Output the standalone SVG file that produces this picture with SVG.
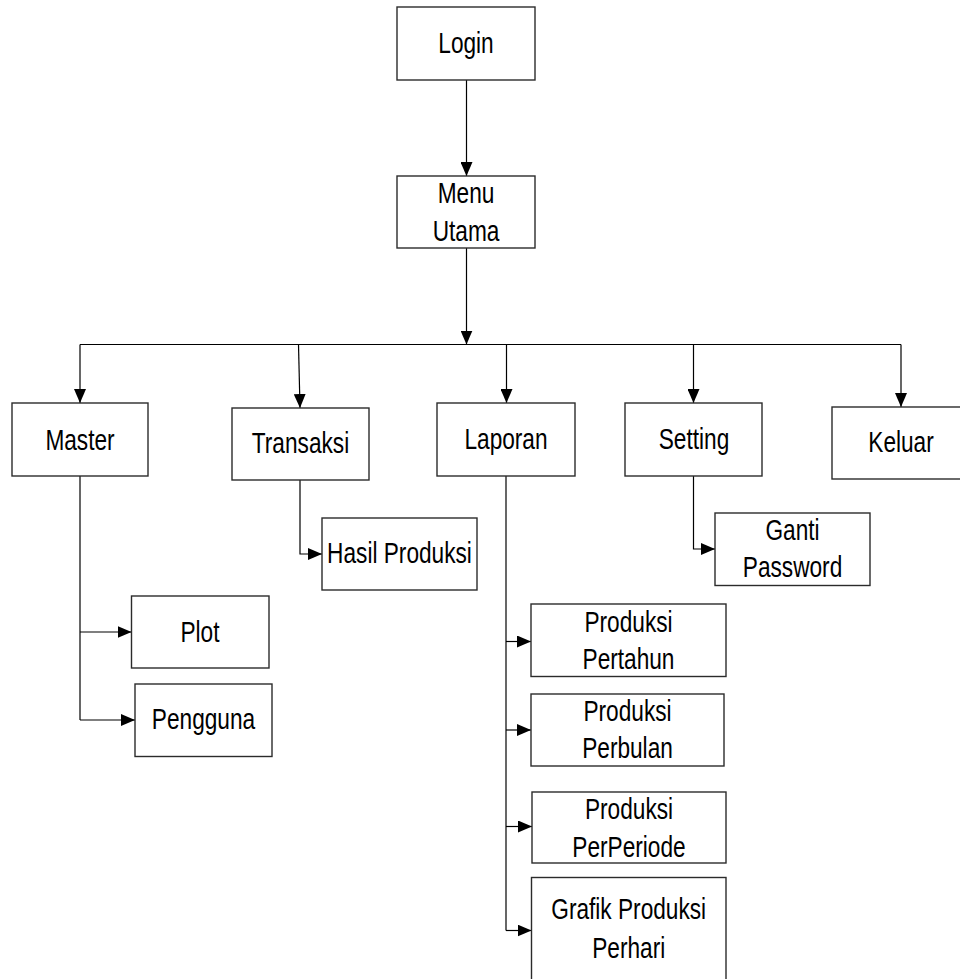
<svg xmlns="http://www.w3.org/2000/svg" width="960" height="979" viewBox="0 0 960 979">
<defs>
<style>
.box{fill:#fff;stroke:#2b2b2b;stroke-width:1.4}
.lbl{font-family:"Liberation Sans",Arial,sans-serif;font-size:30px;fill:#000;text-anchor:middle}
.con{fill:none;stroke:#000;stroke-width:1.2}
</style>
<marker id="ah" markerWidth="14" markerHeight="12" refX="14" refY="6" orient="auto" markerUnits="userSpaceOnUse">
<path d="M0,0 L14,6 L0,12 z" fill="#000"/>
</marker>
</defs>
<rect width="960" height="979" fill="#fff"/>
<g id="connectors">
<path class="con" d="M466.5,80 V176" marker-end="url(#ah)"/>
<path class="con" d="M466.5,248 V344.5" marker-end="url(#ah)"/>
<path class="con" d="M80,344.5 H901"/>
<path class="con" d="M80,344.5 V403" marker-end="url(#ah)"/>
<path class="con" d="M298.5,344.5 L300,408" marker-end="url(#ah)"/>
<path class="con" d="M506.5,344.5 V403" marker-end="url(#ah)"/>
<path class="con" d="M693.5,344.5 V403" marker-end="url(#ah)"/>
<path class="con" d="M901,344.5 V407" marker-end="url(#ah)"/>
<path class="con" d="M80,476 V720"/>
<path class="con" d="M80,632 H131.5" marker-end="url(#ah)"/>
<path class="con" d="M80,720 H135" marker-end="url(#ah)"/>
<path class="con" d="M300,480 V554 H322" marker-end="url(#ah)"/>
<path class="con" d="M506,476 V930.5"/>
<path class="con" d="M506,641.5 H531" marker-end="url(#ah)"/>
<path class="con" d="M506,730 H531" marker-end="url(#ah)"/>
<path class="con" d="M506,826.5 H532" marker-end="url(#ah)"/>
<path class="con" d="M506,930.5 H531.5" marker-end="url(#ah)"/>
<path class="con" d="M693.5,476 V549 H715" marker-end="url(#ah)"/>
</g>
<g id="login"><rect class="box" x="397" y="7" width="138" height="73"/><text class="lbl" transform="translate(466,53) scale(0.755,1)">Login</text></g>
<g id="menu-utama"><rect class="box" x="397" y="176" width="138" height="72"/><text class="lbl" transform="translate(466,203) scale(0.755,1)">Menu</text><text class="lbl" transform="translate(466,241) scale(0.755,1)">Utama</text></g>
<g id="master"><rect class="box" x="12" y="403" width="136" height="73"/><text class="lbl" transform="translate(80,450) scale(0.755,1)">Master</text></g>
<g id="transaksi"><rect class="box" x="232" y="408" width="137" height="72"/><text class="lbl" transform="translate(300.5,453) scale(0.755,1)">Transaksi</text></g>
<g id="laporan"><rect class="box" x="437" y="403" width="138" height="73"/><text class="lbl" transform="translate(506,449) scale(0.755,1)">Laporan</text></g>
<g id="setting"><rect class="box" x="625" y="403" width="137" height="73"/><text class="lbl" transform="translate(694,449) scale(0.755,1)">Setting</text></g>
<g id="keluar"><rect class="box" x="832" y="407" width="138" height="72"/><text class="lbl" transform="translate(901,452) scale(0.755,1)">Keluar</text></g>
<g id="hasil-produksi"><rect class="box" x="322" y="518" width="155" height="72"/><text class="lbl" transform="translate(399.5,563) scale(0.755,1)">Hasil Produksi</text></g>
<g id="ganti-password"><rect class="box" x="715" y="513" width="155" height="72.5"/><text class="lbl" transform="translate(792.5,540) scale(0.755,1)">Ganti</text><text class="lbl" transform="translate(792.5,577) scale(0.755,1)">Password</text></g>
<g id="plot"><rect class="box" x="131.5" y="596" width="137.5" height="72"/><text class="lbl" transform="translate(200,642) scale(0.755,1)">Plot</text></g>
<g id="pengguna"><rect class="box" x="135" y="684" width="137" height="72.5"/><text class="lbl" transform="translate(203.5,729) scale(0.755,1)">Pengguna</text></g>
<g id="produksi-pertahun"><rect class="box" x="531" y="604" width="195" height="72.5"/><text class="lbl" transform="translate(628.5,632) scale(0.755,1)">Produksi</text><text class="lbl" transform="translate(628.5,669) scale(0.755,1)">Pertahun</text></g>
<g id="produksi-perbulan"><rect class="box" x="531" y="694" width="193" height="72"/><text class="lbl" transform="translate(627.5,721) scale(0.755,1)">Produksi</text><text class="lbl" transform="translate(627.5,758) scale(0.755,1)">Perbulan</text></g>
<g id="produksi-perperiode"><rect class="box" x="532" y="792" width="194" height="71"/><text class="lbl" transform="translate(629,819) scale(0.755,1)">Produksi</text><text class="lbl" transform="translate(629,857) scale(0.755,1)">PerPeriode</text></g>
<g id="grafik-produksi-perhari"><rect class="box" x="531.5" y="877.5" width="194.5" height="120"/><text class="lbl" transform="translate(628.7,919) scale(0.755,1)">Grafik Produksi</text><text class="lbl" transform="translate(628.7,958) scale(0.755,1)">Perhari</text></g>
</svg>
